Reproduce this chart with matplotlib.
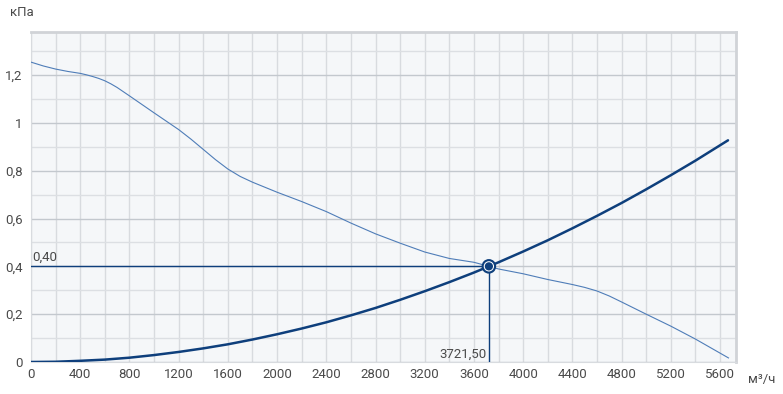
import matplotlib
matplotlib.use("Agg")
import matplotlib.pyplot as plt
from matplotlib.ticker import MultipleLocator, FixedLocator

# Fan curve (pressure vs airflow)
fan_q = [0, 100, 200, 300, 400, 450, 500, 550, 600, 650, 700, 800, 1000, 1200, 1300,
         1400, 1500, 1600, 1700, 1800, 2000, 2200, 2400, 2600, 2800, 3000, 3200, 3400,
         3600, 3721.5, 3800, 4000, 4200, 4400, 4500, 4600, 4700, 4800, 5000, 5200,
         5400, 5669]
fan_p = [1.254, 1.238, 1.225, 1.215, 1.207, 1.201, 1.194, 1.186, 1.176, 1.163, 1.148,
         1.113, 1.042, 0.972, 0.932, 0.889, 0.846, 0.807, 0.776, 0.752, 0.710, 0.671,
         0.629, 0.581, 0.536, 0.497, 0.460, 0.433, 0.417, 0.40, 0.389, 0.369, 0.345,
         0.324, 0.312, 0.297, 0.276, 0.251, 0.200, 0.150, 0.096, 0.017]

# System curve
sys_q = [0, 200, 400, 600, 800, 1000, 1200, 1400, 1600, 1800, 2000, 2200, 2400, 2600,
         2800, 3000, 3200, 3400, 3600, 3721.5, 3800, 4000, 4200, 4400, 4600, 4800,
         5000, 5200, 5400, 5665]
sys_p = [0.0, 0.001, 0.005, 0.010, 0.018, 0.029, 0.042, 0.057, 0.074, 0.094, 0.116,
         0.140, 0.166, 0.195, 0.226, 0.260, 0.296, 0.334, 0.374, 0.40, 0.417, 0.462,
         0.509, 0.559, 0.611, 0.665, 0.722, 0.781, 0.842, 0.927]

op_q = 3721.5
op_p = 0.40
op_q_label = "3721,50"
op_p_label = "0,40"

x_ticks = list(range(0, 5601, 400))
y_ticks = [0, 0.2, 0.4, 0.6, 0.8, 1.0, 1.2]
y_tick_labels = ["0", "0,2", "0,4", "0,6", "0,8", "1", "1,2"]

dark = "#0e3f7c"
light = "#4f7db8"
txt = "#4a4a4a"

plt.rcParams['font.family'] = ['Roboto', 'DejaVu Sans']

fig = plt.figure(figsize=(7.83, 3.94), dpi=100)
ax = fig.add_axes([31/783, 32/394, (736-31)/783, 330/394])
ax.set_facecolor("#f5f7f9")
ax.set_xlim(0, 5730)
ax.set_ylim(0, 1.38)

ax.xaxis.set_major_locator(FixedLocator(x_ticks))
ax.xaxis.set_minor_locator(MultipleLocator(200))
ax.yaxis.set_major_locator(FixedLocator(y_ticks))
ax.yaxis.set_minor_locator(MultipleLocator(0.1))
ax.set_yticklabels(y_tick_labels)
ax.set_xticklabels([str(v) for v in x_ticks])

ax.grid(which="major", axis="y", color="#c3c8ce", lw=1.0)
ax.grid(which="minor", axis="y", color="#dcdfe3", lw=1.0)
ax.grid(which="both", axis="x", color="#d8dbdf", lw=1.0)
ax.set_axisbelow(True)

ax.tick_params(which="both", length=0, labelsize=9.5, colors=txt, pad=4)
ax.tick_params(axis="y", pad=6)

for s in ["top", "right"]:
    ax.spines[s].set_color("#d0d3d7")
    ax.spines[s].set_linewidth(2)
ax.spines["left"].set_color("#d8dbdf")
ax.spines["bottom"].set_color("#d8dbdf")

ax.plot(fan_q, fan_p, color=light, lw=0.8, zorder=3)
ax.plot(sys_q, sys_p, color=dark, lw=1.8, zorder=4, solid_capstyle="round")

ax.plot([0, op_q], [op_p, op_p], color=dark, lw=1.0, zorder=3)
ax.plot([op_q, op_q], [0, op_p], color=dark, lw=1.0, zorder=3)

ax.scatter([op_q], [op_p], s=110, facecolor=dark, edgecolor="none", zorder=5)
ax.scatter([op_q], [op_p], s=55, facecolor="white", edgecolor="none", zorder=6)
ax.scatter([op_q], [op_p], s=35, facecolor=dark, edgecolor="none", zorder=7)

ax.text(10, op_p + 0.01, op_p_label, fontsize=9.5, color=txt, ha="left", va="bottom")
ax.text(op_q - 20, 0.005, op_q_label, fontsize=9.5, color=txt, ha="right", va="bottom")

fig.text(10/783, 1 - 12/394, "кПа", fontsize=9.5, color=txt, ha="left", va="center")
fig.text(748/783, 1 - 380/394, "м³/ч", fontsize=9.5, color=txt, ha="left", va="center")

fig.savefig("out.png", dpi=100)
